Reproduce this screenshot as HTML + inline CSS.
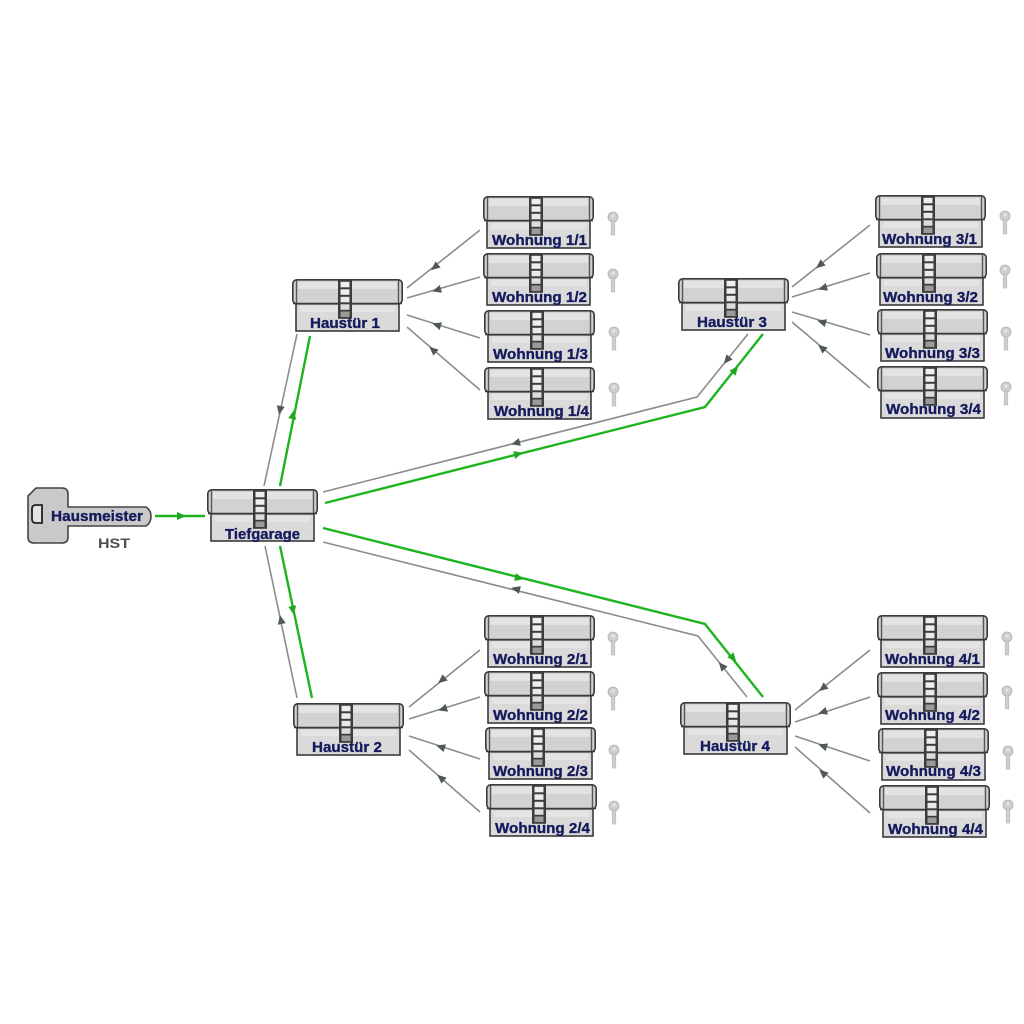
<!DOCTYPE html>
<html><head><meta charset="utf-8"><style>
html,body{margin:0;padding:0;background:#fff;}
svg{display:block;}
text{font-family:"Liberation Sans",Arial,sans-serif;font-weight:bold;}
.t{font-size:15px;fill:#151b5c;stroke:#151b5c;stroke-width:0.35px;}
</style></head><body>
<svg width="1024" height="1024" viewBox="0 0 1024 1024" xmlns="http://www.w3.org/2000/svg">
<defs>
 <g id="cyl">
  <rect x="4" y="24" width="103" height="28" fill="#dadada" stroke="#3a3a3a" stroke-width="1.6"/>
  <rect x="8" y="27" width="95" height="6" fill="#e4e4e4"/>
  <rect x="0.8" y="0.8" width="109.4" height="24" rx="4" fill="#d2d2d2" stroke="#3a3a3a" stroke-width="1.6"/>
  <rect x="6" y="3" width="99" height="7" fill="#e3e3e3"/>
  <line x1="4.5" y1="1.5" x2="4.5" y2="24.5" stroke="#555" stroke-width="1.4"/>
  <line x1="106.5" y1="1.5" x2="106.5" y2="24.5" stroke="#555" stroke-width="1.4"/>
  <line x1="1" y1="24.5" x2="110" y2="24.5" stroke="#3a3a3a" stroke-width="1.6"/>
  <rect x="46" y="0.8" width="14" height="39" fill="#3c3c3c"/>
  <rect x="48.5" y="2.8" width="9" height="5.5" fill="#eeeeee"/>
  <rect x="48.5" y="10.3" width="9" height="5.5" fill="#eeeeee"/>
  <rect x="48.5" y="17.8" width="9" height="5.5" fill="#e8e8e8"/>
  <rect x="48.5" y="25.3" width="9" height="5.5" fill="#dddddd"/>
  <rect x="48.5" y="32.5" width="9" height="5.5" fill="#9a9a9a"/>
 </g>
 <g id="skey">
  <circle cx="0" cy="5" r="5" fill="#cfcfcf" stroke="#b0b0b0" stroke-width="0.8"/>
  <rect x="-1.8" y="9" width="3.6" height="14" fill="#cfcfcf" stroke="#b5b5b5" stroke-width="0.6"/>
  <circle cx="0" cy="4" r="1.5" fill="#e8e8e8"/>
 </g>
 <polygon id="ag" points="5,0 -4,-4 -4,4" fill="#4f5a55"/>
 <polygon id="agr" points="5,0 -4,-4 -4,4" fill="#1fa81f"/>
</defs>

<!-- gray wohnung lines -->
<g stroke="#8c8c8c" stroke-width="1.6" fill="none">
 <line x1="480" y1="230" x2="407" y2="288"/>
 <line x1="480" y1="277" x2="407" y2="298"/>
 <line x1="480" y1="338" x2="407" y2="315"/>
 <line x1="480" y1="390" x2="407" y2="327"/>
 <line x1="870" y1="225" x2="792" y2="287"/>
 <line x1="870" y1="273" x2="792" y2="297"/>
 <line x1="870" y1="335" x2="792" y2="312"/>
 <line x1="870" y1="388" x2="792" y2="322"/>
 <line x1="480" y1="650" x2="409" y2="707"/>
 <line x1="480" y1="697" x2="409" y2="719"/>
 <line x1="480" y1="759" x2="409" y2="736"/>
 <line x1="480" y1="812" x2="409" y2="750"/>
 <line x1="870" y1="650" x2="795" y2="710"/>
 <line x1="870" y1="697" x2="795" y2="722"/>
 <line x1="870" y1="761" x2="795" y2="736"/>
 <line x1="870" y1="813" x2="795" y2="747"/>
 <line x1="297" y1="334" x2="264" y2="486"/>
 <polyline points="748,334 697,397 323,492"/>
 <polyline points="747,697 698,636 323,542"/>
 <line x1="297" y1="698" x2="265" y2="546"/>
</g>
<!-- green lines -->
<g stroke="#1fb41f" stroke-width="2.4" fill="none">
 <line x1="155" y1="516" x2="205" y2="516"/>
 <line x1="280" y1="486" x2="310" y2="336"/>
 <polyline points="325,503 705,407 763,334"/>
 <polyline points="323,528 705,624 763,697"/>
 <line x1="280" y1="546" x2="312" y2="698"/>
</g>

<!-- gray arrows -->
<use href="#ag" transform="translate(435,267) rotate(141.5)"/>
<use href="#ag" transform="translate(437,290) rotate(164)"/>
<use href="#ag" transform="translate(437,325) rotate(197.5)"/>
<use href="#ag" transform="translate(433,350) rotate(220.8)"/>
<use href="#ag" transform="translate(820,265) rotate(141.5)"/>
<use href="#ag" transform="translate(823,288) rotate(163)"/>
<use href="#ag" transform="translate(822,322) rotate(196.5)"/>
<use href="#ag" transform="translate(822,348) rotate(220)"/>
<use href="#ag" transform="translate(442,680) rotate(141)"/>
<use href="#ag" transform="translate(443,709) rotate(163)"/>
<use href="#ag" transform="translate(441,747) rotate(198)"/>
<use href="#ag" transform="translate(441,778) rotate(221)"/>
<use href="#ag" transform="translate(823,688) rotate(141)"/>
<use href="#ag" transform="translate(823,712) rotate(162)"/>
<use href="#ag" transform="translate(823,746) rotate(199)"/>
<use href="#ag" transform="translate(823,773) rotate(221)"/>
<use href="#ag" transform="translate(280,410) rotate(102)"/>
<use href="#ag" transform="translate(727,360) rotate(129)"/>
<use href="#ag" transform="translate(516,443) rotate(166)"/>
<use href="#ag" transform="translate(722,666) rotate(231)"/>
<use href="#ag" transform="translate(516,589) rotate(194)"/>
<use href="#ag" transform="translate(281,620) rotate(258)"/>
<!-- green arrows -->
<use href="#agr" transform="translate(181,516) rotate(0)"/>
<use href="#agr" transform="translate(293,415) rotate(-79)"/>
<use href="#agr" transform="translate(518,454) rotate(-14)"/>
<use href="#agr" transform="translate(735,370) rotate(-51.5)"/>
<use href="#agr" transform="translate(519,578) rotate(14)"/>
<use href="#agr" transform="translate(733,658) rotate(51.5)"/>
<use href="#agr" transform="translate(293,610) rotate(78)"/>

<!-- Hausmeister key -->
<g>
 <path d="M36,488 L62,488 Q68,488 68,494 L68,507 L146,507 Q151,510 151,516.5 Q151,523 146,526 L68,526 L68,537 Q68,543 62,543 L34,543 Q28,543 28,537 L28,496 Z" fill="#c9c9c9" stroke="#444" stroke-width="1.6"/>
 <path d="M36,505 L42,505 L42,523 L36,523 Q32,523 32,519 L32,509 Q32,505 36,505 Z" fill="#e4e4e4" stroke="#222" stroke-width="1.8"/>
 <text class="t" x="51" y="521" style="font-size:14.5px" textLength="92" lengthAdjust="spacingAndGlyphs">Hausmeister</text>
 <text x="98" y="548" font-size="14" fill="#4e4e4e" textLength="32" lengthAdjust="spacingAndGlyphs">HST</text>
</g>

<!-- cylinders -->
<use href="#cyl" x="207" y="489"/>
<text class="t" x="225" y="539" textLength="75" lengthAdjust="spacingAndGlyphs">Tiefgarage</text>

<use href="#cyl" x="292" y="279"/>
<text class="t" x="310" y="328" textLength="70" lengthAdjust="spacingAndGlyphs">Haustür 1</text>
<use href="#cyl" x="293" y="703"/>
<text class="t" x="312" y="752" textLength="70" lengthAdjust="spacingAndGlyphs">Haustür 2</text>
<use href="#cyl" x="678" y="278"/>
<text class="t" x="697" y="327" textLength="70" lengthAdjust="spacingAndGlyphs">Haustür 3</text>
<use href="#cyl" x="680" y="702"/>
<text class="t" x="700" y="751" textLength="70" lengthAdjust="spacingAndGlyphs">Haustür 4</text>

<!-- Wohnung 1 -->
<use href="#cyl" x="483" y="196"/><text class="t" x="492" y="245" textLength="95" lengthAdjust="spacingAndGlyphs">Wohnung 1/1</text><use href="#skey" x="613" y="212"/>
<use href="#cyl" x="483" y="253"/><text class="t" x="492" y="302" textLength="95" lengthAdjust="spacingAndGlyphs">Wohnung 1/2</text><use href="#skey" x="613" y="269"/>
<use href="#cyl" x="484" y="310"/><text class="t" x="493" y="359" textLength="95" lengthAdjust="spacingAndGlyphs">Wohnung 1/3</text><use href="#skey" x="614" y="327"/>
<use href="#cyl" x="484" y="367"/><text class="t" x="494" y="416" textLength="95" lengthAdjust="spacingAndGlyphs">Wohnung 1/4</text><use href="#skey" x="614" y="383"/>

<!-- Wohnung 3 -->
<use href="#cyl" x="875" y="195"/><text class="t" x="882" y="244" textLength="95" lengthAdjust="spacingAndGlyphs">Wohnung 3/1</text><use href="#skey" x="1005" y="211"/>
<use href="#cyl" x="876" y="253"/><text class="t" x="883" y="302" textLength="95" lengthAdjust="spacingAndGlyphs">Wohnung 3/2</text><use href="#skey" x="1005" y="265"/>
<use href="#cyl" x="877" y="309"/><text class="t" x="885" y="358" textLength="95" lengthAdjust="spacingAndGlyphs">Wohnung 3/3</text><use href="#skey" x="1006" y="327"/>
<use href="#cyl" x="877" y="366"/><text class="t" x="886" y="414" textLength="95" lengthAdjust="spacingAndGlyphs">Wohnung 3/4</text><use href="#skey" x="1006" y="382"/>

<!-- Wohnung 2 -->
<use href="#cyl" x="484" y="615"/><text class="t" x="493" y="664" textLength="95" lengthAdjust="spacingAndGlyphs">Wohnung 2/1</text><use href="#skey" x="613" y="632"/>
<use href="#cyl" x="484" y="671"/><text class="t" x="493" y="720" textLength="95" lengthAdjust="spacingAndGlyphs">Wohnung 2/2</text><use href="#skey" x="613" y="687"/>
<use href="#cyl" x="485" y="727"/><text class="t" x="493" y="776" textLength="95" lengthAdjust="spacingAndGlyphs">Wohnung 2/3</text><use href="#skey" x="614" y="745"/>
<use href="#cyl" x="486" y="784"/><text class="t" x="495" y="833" textLength="95" lengthAdjust="spacingAndGlyphs">Wohnung 2/4</text><use href="#skey" x="614" y="801"/>

<!-- Wohnung 4 -->
<use href="#cyl" x="877" y="615"/><text class="t" x="885" y="664" textLength="95" lengthAdjust="spacingAndGlyphs">Wohnung 4/1</text><use href="#skey" x="1007" y="632"/>
<use href="#cyl" x="877" y="672"/><text class="t" x="885" y="720" textLength="95" lengthAdjust="spacingAndGlyphs">Wohnung 4/2</text><use href="#skey" x="1007" y="686"/>
<use href="#cyl" x="878" y="728"/><text class="t" x="886" y="776" textLength="95" lengthAdjust="spacingAndGlyphs">Wohnung 4/3</text><use href="#skey" x="1008" y="746"/>
<use href="#cyl" x="879" y="785"/><text class="t" x="888" y="834" textLength="95" lengthAdjust="spacingAndGlyphs">Wohnung 4/4</text><use href="#skey" x="1008" y="800"/>
</svg>
</body></html>
